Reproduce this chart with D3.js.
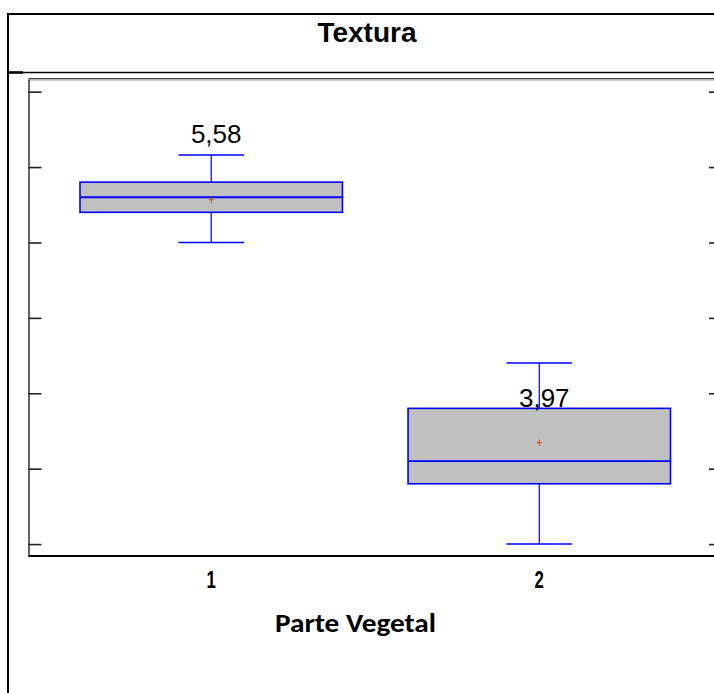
<!DOCTYPE html>
<html>
<head>
<meta charset="utf-8">
<script src="https://cdn.jsdelivr.net/npm/d3@7"></script>
<style>
  html, body { margin: 0; padding: 0; background: #fff; }
  svg { display: block; }
</style>
</head>
<body>
<svg id="chart" width="714" height="693"></svg>
<script>
// Box-plot summaries per plant part
const categories = ["1", "2"];
const lowerWhisker = [5.30, 3.30];
const q1Values     = [5.50, 3.70];
const medians      = [5.60, 3.85];
const q3Values     = [5.70, 4.20];
const upperWhisker = [5.88, 4.50];
const means        = [5.58, 3.97];
const meanLabels   = ["5,58", "3,97"];
const yTickValues  = [3.3, 3.8, 4.3, 4.8, 5.3, 5.8, 6.3];

const svg = d3.select("#chart");

// Outer frame and title strip
const frame = { left: 8, top: 14, right: 727, bottom: 720, titleBottom: 72.5 };
svg.append("rect")
  .attr("x", frame.left).attr("y", frame.top)
  .attr("width", frame.right - frame.left).attr("height", frame.bottom - frame.top)
  .attr("fill", "none").attr("stroke", "#000").attr("stroke-width", 2);
svg.append("line")
  .attr("x1", frame.left).attr("x2", frame.right)
  .attr("y1", frame.titleBottom).attr("y2", frame.titleBottom)
  .attr("stroke", "#000").attr("stroke-width", 1.5);
svg.append("line")
  .attr("x1", frame.left).attr("x2", frame.left + 15)
  .attr("y1", frame.titleBottom).attr("y2", frame.titleBottom)
  .attr("stroke", "#000").attr("stroke-width", 2.5);

svg.append("text")
  .attr("x", 367).attr("y", 41.5)
  .attr("text-anchor", "middle")
  .attr("font-family", "'Liberation Sans', Arial, sans-serif")
  .attr("font-weight", "bold")
  .attr("font-size", 28)
  .text("Textura");

// Plot area
const plot = { left: 28.5, right: 722, top: 79, bottom: 556 };

const x = d3.scalePoint()
  .domain(categories)
  .range([plot.left, plot.right])
  .padding(0.557);
const step = x.step();

const y = d3.scaleLinear()
  .domain([3.221, 6.384])
  .range([plot.bottom, plot.top]);

// Top border of the plot (soft gray double rule)
svg.append("line")
  .attr("x1", plot.left).attr("x2", plot.right)
  .attr("y1", plot.top - 0.5).attr("y2", plot.top - 0.5)
  .attr("stroke", "#444").attr("stroke-width", 1);
svg.append("line")
  .attr("x1", plot.left).attr("x2", plot.right)
  .attr("y1", plot.top + 0.8).attr("y2", plot.top + 0.8)
  .attr("stroke", "#999").attr("stroke-width", 1.3);

// Left axis with inward ticks, no labels
const leftAxis = svg.append("g")
  .attr("transform", `translate(${plot.left},0)`)
  .call(d3.axisRight(y).tickValues(yTickValues).tickSize(13).tickSizeOuter(0).tickFormat(""));
leftAxis.select(".domain").attr("stroke", "#111").attr("stroke-width", 1.3);
leftAxis.selectAll(".tick line").attr("stroke", "#222").attr("stroke-width", 1.6);

// Right axis with inward ticks
const rightAxis = svg.append("g")
  .attr("transform", `translate(${plot.right},0)`)
  .call(d3.axisLeft(y).tickValues(yTickValues).tickSize(13).tickSizeOuter(0).tickFormat(""));
rightAxis.select(".domain").attr("stroke", "#111").attr("stroke-width", 1.3);
rightAxis.selectAll(".tick line").attr("stroke", "#222").attr("stroke-width", 1.6);

// Bottom axis line
svg.append("line")
  .attr("x1", plot.left).attr("x2", plot.right + 10)
  .attr("y1", plot.bottom).attr("y2", plot.bottom)
  .attr("stroke", "#000").attr("stroke-width", 2);

// Category labels (condensed bold digits)
svg.selectAll("text.xlab")
  .data(categories)
  .join("text")
  .attr("class", "xlab")
  .attr("transform", d => `translate(${x(d)},588) scale(0.7,1)`)
  .attr("text-anchor", "middle")
  .attr("font-family", "'Liberation Sans', Arial, sans-serif")
  .attr("font-weight", "bold")
  .attr("font-size", 24)
  .text(d => d);

svg.append("text")
  .attr("x", 355.5).attr("y", 631.5)
  .attr("text-anchor", "middle")
  .attr("font-family", "Carlito, Calibri, Lato, sans-serif")
  .attr("font-weight", "bold")
  .attr("font-size", 27)
  .attr("textLength", 161)
  .attr("lengthAdjust", "spacingAndGlyphs")
  .text("Parte Vegetal");

// Boxes
const boxW = step * 0.8;
const capW = step * 0.2;
const blue = "#0000ff";

const boxes = svg.selectAll("g.box")
  .data(categories.map((c, i) => ({
    c, lo: lowerWhisker[i], q1: q1Values[i], med: medians[i],
    q3: q3Values[i], hi: upperWhisker[i], mean: means[i], label: meanLabels[i]
  })))
  .join("g")
  .attr("class", "box");

// whisker stems
boxes.append("line")
  .attr("x1", d => x(d.c)).attr("x2", d => x(d.c))
  .attr("y1", d => y(d.hi)).attr("y2", d => y(d.q3))
  .attr("stroke", blue).attr("stroke-width", 1.2);
boxes.append("line")
  .attr("x1", d => x(d.c)).attr("x2", d => x(d.c))
  .attr("y1", d => y(d.q1)).attr("y2", d => y(d.lo))
  .attr("stroke", blue).attr("stroke-width", 1.2);
// caps
boxes.append("line")
  .attr("x1", d => x(d.c) - capW / 2).attr("x2", d => x(d.c) + capW / 2)
  .attr("y1", d => y(d.hi)).attr("y2", d => y(d.hi))
  .attr("stroke", blue).attr("stroke-width", 1.5);
boxes.append("line")
  .attr("x1", d => x(d.c) - capW / 2).attr("x2", d => x(d.c) + capW / 2)
  .attr("y1", d => y(d.lo)).attr("y2", d => y(d.lo))
  .attr("stroke", blue).attr("stroke-width", 1.5);
// box
boxes.append("rect")
  .attr("x", d => x(d.c) - boxW / 2)
  .attr("y", d => y(d.q3))
  .attr("width", boxW)
  .attr("height", d => y(d.q1) - y(d.q3))
  .attr("fill", "#c0c0c0")
  .attr("stroke", blue).attr("stroke-width", 1.6);
// median
boxes.append("line")
  .attr("x1", d => x(d.c) - boxW / 2).attr("x2", d => x(d.c) + boxW / 2)
  .attr("y1", d => y(d.med)).attr("y2", d => y(d.med))
  .attr("stroke", blue).attr("stroke-width", 1.8);
// mean marker
const meanColor = "#c0501a";
boxes.append("line")
  .attr("x1", d => x(d.c) - 2.5).attr("x2", d => x(d.c) + 2.5)
  .attr("y1", d => y(d.mean) - 0.5).attr("y2", d => y(d.mean) - 0.5)
  .attr("stroke", meanColor).attr("stroke-width", 1);
boxes.append("line")
  .attr("x1", d => x(d.c)).attr("x2", d => x(d.c))
  .attr("y1", d => y(d.mean) - 3.5).attr("y2", d => y(d.mean) + 3)
  .attr("stroke", meanColor).attr("stroke-width", 1);

// mean value labels, anchored in data units above each box
const labelAnchor = [5.958, 4.21];
boxes.append("text")
  .attr("x", d => x(d.c) + 5)
  .attr("y", (d, i) => y(labelAnchor[i]))
  .attr("text-anchor", "middle")
  .attr("font-family", "'Liberation Sans', Arial, sans-serif")
  .attr("font-size", 26)
  .attr("fill", "#000")
  .text(d => d.label);
</script>
</body>
</html>
